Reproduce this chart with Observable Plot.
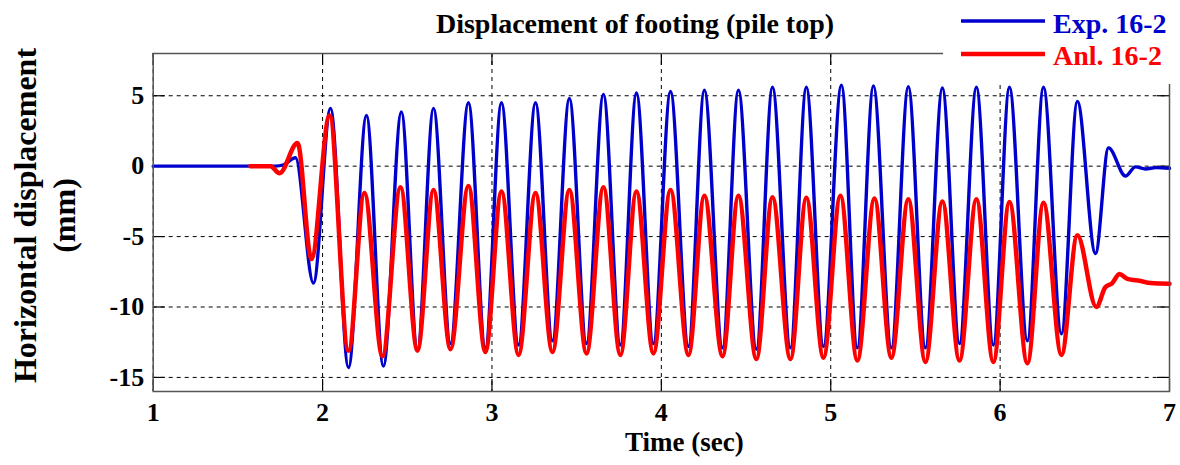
<!DOCTYPE html>
<html><head><meta charset="utf-8">
<script src="https://cdn.jsdelivr.net/npm/d3@7"></script>
<script src="https://cdn.jsdelivr.net/npm/@observablehq/plot@0.6"></script>
<style>
body{margin:0;background:#fff;}
#wrap{position:relative;width:1180px;height:465px;font-family:"Liberation Serif","Times New Roman",serif;}
#wrap svg{display:block;}
#overlay{position:absolute;left:0;top:0;}
</style></head><body><div id="wrap"></div>
<script>
const xTicks = [1, 2, 3, 4, 5, 6, 7];
const yTicks = [-15, -10, -5, 0, 5];
const titleText = "Displacement of footing (pile top)";
const xLabel = "Time (sec)";
const yLabel = "Horizontal displacement\n(mm)";
const seriesNames = ["Exp. 16-2", "Anl. 16-2"];
const seriesColors = ["#0000CD", "#FF0000"];

// Exp. 16-2 (extrema)
const expTime = [1.0, 1.72, 1.77, 1.84, 1.946, 2.047,
  2.153, 2.259, 2.359, 2.465, 2.560, 2.655, 2.755, 2.861, 2.961, 3.056,
  3.157, 3.257, 3.357, 3.457, 3.558, 3.658, 3.758, 3.853, 3.953, 4.054,
  4.160, 4.254, 4.361, 4.455, 4.561, 4.656, 4.762, 4.856, 4.957, 5.063,
  5.157, 5.252, 5.358, 5.458, 5.559, 5.659, 5.760, 5.860, 5.960, 6.055,
  6.161, 6.256, 6.362, 6.456,
  6.563, 6.640, 6.740, 6.799, 6.858, 6.92, 7.0];
const expDisp = [0, 0, 0.1, 0.6, -8.3, 4.1,
  -14.3, 3.6, -14.2, 3.85, -13.0, 4.1, -12.6, 4.5, -12.9, 4.5,
  -12.7, 4.5, -12.4, 4.8, -12.6, 5.1, -12.7, 5.2, -12.6, 5.3,
  -12.8, 5.4, -12.9, 5.4, -13.0, 5.6, -12.9, 5.6, -12.8, 5.75,
  -12.9, 5.7, -12.9, 5.65, -12.9, 5.55, -12.6, 5.6, -12.7, 5.6,
  -12.4, 5.6, -11.9, 4.6,
  -6.2, 1.3, -0.7, -0.05, -0.2, -0.1, -0.15];

// Anl. 16-2
const anlTime = [1.574, 1.692, 1.746, 1.852, 1.934, 2.041,
  2.153, 2.247, 2.353, 2.460, 2.560, 2.655, 2.755, 2.861, 2.961, 3.056,
  3.157, 3.257, 3.357, 3.457, 3.558, 3.658, 3.758, 3.853, 3.953, 4.054,
  4.160, 4.254, 4.361, 4.455, 4.561, 4.656, 4.762, 4.856, 4.957, 5.057,
  5.157, 5.258, 5.358, 5.458, 5.559, 5.659, 5.760, 5.860, 5.960, 6.055,
  6.161, 6.256, 6.362, 6.456,
  6.568, 6.621, 6.662, 6.704, 6.751, 6.828, 6.887, 7.0];
const anlDisp = [0, 0, -0.5, 1.65, -6.6, 3.6,
  -13.1, -1.9, -13.5, -1.5, -13.1, -1.7, -13.0, -1.4, -13.2, -1.8,
  -13.4, -1.9, -13.2, -1.7, -13.3, -1.5, -13.4, -1.8, -13.3, -1.7,
  -13.4, -2.1, -13.5, -2.1, -13.7, -2.2, -13.7, -2.25, -13.6, -2.1,
  -13.8, -2.3, -13.6, -2.35, -13.9, -2.5, -13.8, -2.35, -13.9, -2.55,
  -14.0, -2.6, -13.4, -4.9,
  -10.0, -8.6, -8.3, -7.65, -8.0, -8.15, -8.3, -8.35];

const W = 1180, H = 465, mL = 152.7, mR = 11, mT = 53, mB = 74;
const innerW = W - mL - mR, innerH = H - mT - mB;
const font = '"Liberation Serif","Times New Roman",serif';

const expData = expTime.map((t, i) => ({t, v: expDisp[i]}));
const anlData = anlTime.map((t, i) => ({t, v: anlDisp[i]}));
const tick = 12;

const plot = Plot.plot({
  width: W, height: H,
  marginLeft: mL, marginRight: mR, marginTop: mT, marginBottom: mB,
  style: {fontFamily: font, fontWeight: "bold", fontSize: "26px", color: "#000", background: "#fff", overflow: "visible"},
  x: {domain: [1, 7]},
  y: {domain: [-16, 8]},
  marks: [
    Plot.gridX(xTicks, {stroke: "#000", strokeOpacity: 1, strokeWidth: 1, strokeDasharray: "4,4"}),
    Plot.gridY(yTicks, {stroke: "#000", strokeOpacity: 1, strokeWidth: 1, strokeDasharray: "4,4"}),
    Plot.tickX(xTicks, {x: d => d, insetTop: innerH - tick, stroke: "#000", strokeWidth: 1.2}),
    Plot.tickX(xTicks, {x: d => d, insetBottom: innerH - tick, stroke: "#000", strokeWidth: 1.2}),
    Plot.tickY(yTicks, {y: d => d, insetRight: innerW - tick, stroke: "#000", strokeWidth: 1.2}),
    Plot.tickY(yTicks, {y: d => d, insetLeft: innerW - tick, stroke: "#000", strokeWidth: 1.2}),
    Plot.axisX(xTicks, {tickSize: 0, tickPadding: 11, label: null, fontSize: 26, fontWeight: "bold", tickFormat: d => String(d)}),
    Plot.axisY(yTicks, {tickSize: 0, tickPadding: 9, label: null, fontSize: 26, fontWeight: "bold", tickFormat: d => String(d)}),
    Plot.line(expData, {x: "t", y: "v", stroke: seriesColors[0], strokeWidth: 3.4, curve: "monotone-x"}),
    Plot.line(anlData, {x: "t", y: "v", stroke: seriesColors[1], strokeWidth: 4.5, curve: "monotone-x"}),
    Plot.frame({stroke: "#555", strokeWidth: 1.5}),
    Plot.text([xLabel], {text: d => d, frameAnchor: "bottom", dy: 59, dx: 23, fontSize: 27, fontWeight: "bold", fill: "#000"}),
    Plot.text([yLabel], {text: d => d, frameAnchor: "left", textAnchor: "middle", rotate: -90, dx: -110, dy: -7, fontSize: 32, fontWeight: "bold", lineHeight: 1.2, fill: "#000"})
  ]
});

const wrap = document.getElementById("wrap");
wrap.appendChild(plot);

// title + legend overlay
const ns = "http://www.w3.org/2000/svg";
const ov = document.createElementNS(ns, "svg");
ov.setAttribute("id", "overlay");
ov.setAttribute("width", W); ov.setAttribute("height", H);
ov.style.fontFamily = font; ov.style.fontWeight = "bold";
function el(tag, attrs, txt) {
  const e = document.createElementNS(ns, tag);
  for (const k in attrs) e.setAttribute(k, attrs[k]);
  if (txt) e.textContent = txt;
  ov.appendChild(e);
  return e;
}
el("rect", {x: 943, y: 0, width: 237, height: 84, fill: "#fff"});
el("text", {x: 635, y: 33, "text-anchor": "middle", "font-size": 28, fill: "#000"}, titleText);
const legY = [21, 54], legTextY = [33, 65], legW = [3.5, 4.5];
seriesNames.forEach((n, i) => {
  el("line", {x1: 961, x2: 1045, y1: legY[i], y2: legY[i], stroke: seriesColors[i], "stroke-width": legW[i]});
  el("text", {x: 1053, y: legTextY[i], "font-size": 28, fill: seriesColors[i]}, n);
});
wrap.appendChild(ov);
</script></body></html>
